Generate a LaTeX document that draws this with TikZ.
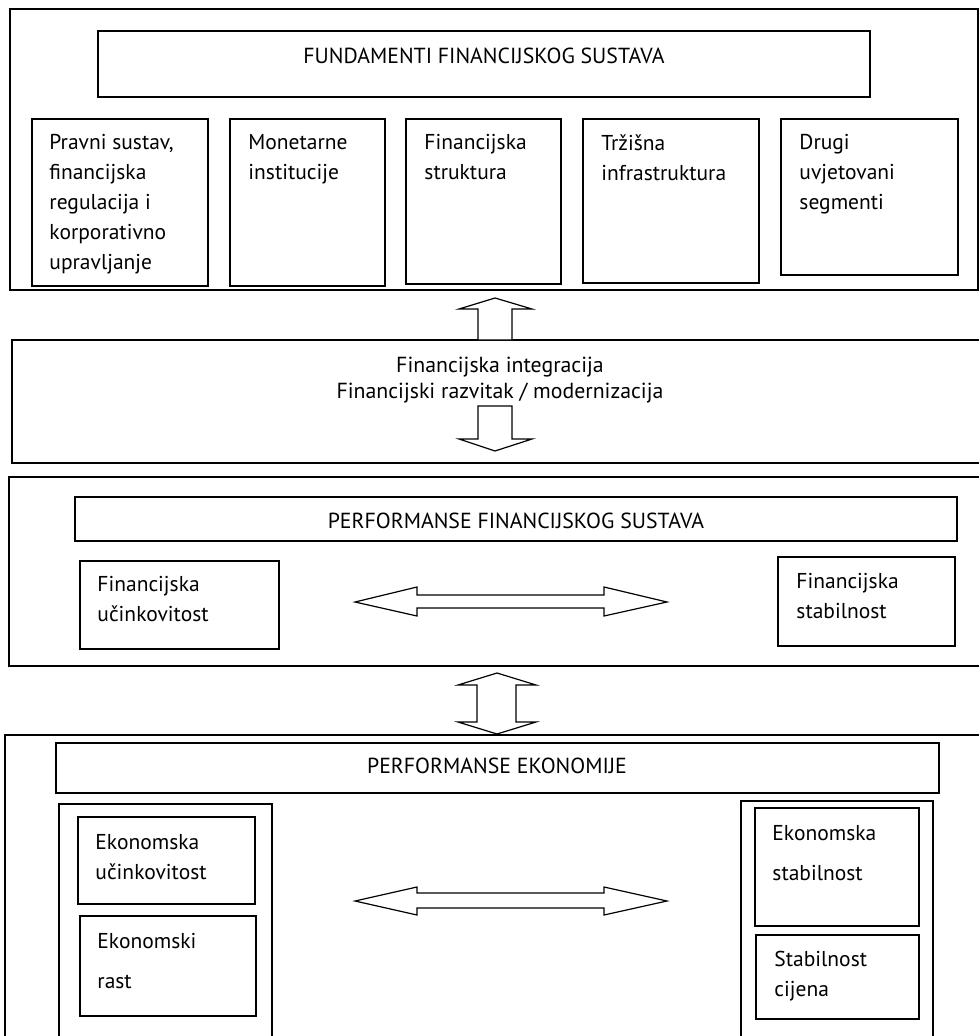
\documentclass[tikz,border=0pt]{standalone}
\usepackage{fontspec}
\setmainfont{PT Sans}
\usetikzlibrary{fit}
\begin{document}
\begin{tikzpicture}[x=1pt, y=-1pt]
    \tikzset{box/.style={draw, line width=1.5pt, inner sep=0pt},
      lbl/.style={anchor=north west, inner sep=0pt, align=left, font=\fontsize{21.5}{30}\selectfont},
      ttl/.style={anchor=base, inner sep=0pt, font=\fontsize{21.8}{24}\selectfont},
      bigarrow/.style={draw, line width=1.2pt, fill=white, line join=miter}}
    \useasboundingbox (0,0) rectangle (979,1036);
    \clip (0,0) rectangle (979,1036);
    % fundamenti
    \node [box, fit={(10,9) (978,290)}] (fund) {};
    \node [box, fit={(98,31) (870,97)}] (fundtitle) {};
    \node [ttl] (fundtxt) at (484,63) {FUNDAMENTI FINANCIJSKOG SUSTAVA};
    \node [box, fit={(32,119) (208,286)}] (pravni) {};
    \node [box, fit={(230,119) (385,286)}] (monet) {};
    \node [box, fit={(406,119) (561,284)}] (struk) {};
    \node [box, fit={(583,119) (759,283)}] (infra) {};
    \node [box, fit={(781,119) (958,275)}] (drugi) {};
    \node [lbl] (pravnitxt) at ([shift={(18,16)}]pravni.north west) {Pravni sustav,\\financijska\\regulacija i\\korporativno\\upravljanje};
    \node [lbl] (monettxt) at ([shift={(19,16)}]monet.north west) {Monetarne\\institucije};
    \node [lbl] (struktxt) at ([shift={(19,16)}]struk.north west) {Financijska\\struktura};
    \node [lbl] (infratxt) at ([shift={(19,16)}]infra.north west) {Tržišna\\infrastruktura};
    \node [lbl] (drugitxt) at ([shift={(19,16)}]drugi.north west) {Drugi\\uvjetovani\\segmenti};
    % integracija
    \node [box, fit={(12,340) (995,463)}] (integ) {};
    \node [ttl] (integtxt) at (500,372) {Financijska integracija};
    \node [ttl] (razvtxt) at (500,398) {Financijski razvitak / modernizacija};
    \draw [bigarrow] (495,298) -- (532,309) -- (512,309) -- (512,340) -- (478,340) -- (478,309) -- (459,309) -- cycle;
    \draw [bigarrow] (495,451) -- (532,439) -- (512,439) -- (512,406) -- (478,406) -- (478,439) -- (459,439) -- cycle;
    % performanse financijskog sustava
    \node [box, fit={(9,477) (995,666)}] (finperf) {};
    \node [box, fit={(75,497) (957,541)}] (finttl) {};
    \node [ttl] (finttltxt) at (516,528) {PERFORMANSE FINANCIJSKOG SUSTAVA};
    \node [box, fit={(80,561) (279,649)}] (finucin) {};
    \node [box, fit={(778,557) (955,646)}] (finstab) {};
    \node [lbl] (finucintxt) at ([shift={(18,16)}]finucin.north west) {Financijska\\učinkovitost};
    \node [lbl] (finstabtxt) at ([shift={(19,17)}]finstab.north west) {Financijska\\stabilnost};
    \draw [bigarrow] (355,602) -- (417,587) -- (417,595) -- (604,595) -- (604,587) -- (667,602)
      -- (604,616) -- (604,608) -- (417,608) -- (417,616) -- cycle;
    \draw [bigarrow] (497,673) -- (536,685) -- (516,685) -- (516,722) -- (536,722) -- (497,734)
      -- (458,722) -- (477,722) -- (477,685) -- (458,685) -- cycle;
    % performanse ekonomije
    \node [box, fit={(5,735) (995,1050)}] (ekperf) {};
    \node [box, fit={(56,743) (939,793)}] (ekttl) {};
    \node [ttl] (ekttltxt) at (497,773) {PERFORMANSE EKONOMIJE};
    \node [box, fit={(59,804) (272,1050)}] (ekleft) {};
    \node [box, fit={(741,801) (933,1050)}] (ekright) {};
    \node [box, fit={(78,817) (255,904)}] (ekucin) {};
    \node [box, fit={(80,916) (256,1016)}] (ekrast) {};
    \node [box, fit={(755,808) (919,926)}] (ekstab) {};
    \node [box, fit={(756,935) (919,1019)}] (cijene) {};
    \node [lbl] (ekucintxt) at ([shift={(18,18)}]ekucin.north west) {Ekonomska\\učinkovitost};
    \node [lbl] (ekrasttxt) at ([shift={(18,18)}]ekrast.north west) {Ekonomski\\[10pt]rast};
    \node [lbl] (ekstabtxt) at ([shift={(18,18)}]ekstab.north west) {Ekonomska\\[10pt]stabilnost};
    \node [lbl] (cijenetxt) at ([shift={(19,17)}]cijene.north west) {Stabilnost\\cijena};
    \draw [bigarrow] (355,901) -- (417,887) -- (417,893) -- (604,893) -- (604,887) -- (667,901)
      -- (604,915) -- (604,908) -- (417,908) -- (417,915) -- cycle;
\end{tikzpicture}
\end{document}
